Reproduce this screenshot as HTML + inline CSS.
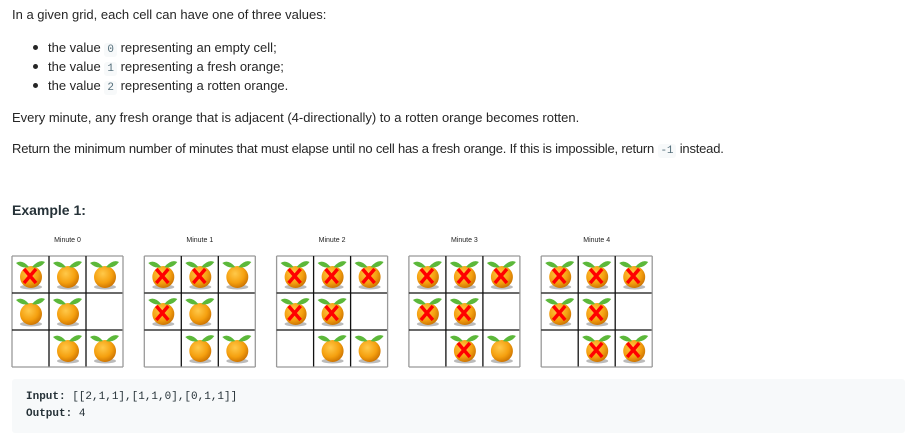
<!DOCTYPE html>
<html><head><meta charset="utf-8"><style>
body{margin:0;width:905px;height:436px;background:#fff;font-family:"Liberation Sans",sans-serif;color:#262626;font-size:13px;position:relative;overflow:hidden}
.t{position:absolute;left:12px;white-space:nowrap;line-height:16px}
.li{position:absolute;left:48px;white-space:nowrap;line-height:16px}
.dot{position:absolute;left:33px;width:5px;height:5px;border-radius:50%;background:#262626}
code{font-family:"Liberation Mono",monospace;font-size:11px;background:#f7f9fa;color:#546e7a;padding:1px 3px;border-radius:3px}
.mt{position:absolute;font-size:7px;color:#222;width:111px;text-align:center}
#code{position:absolute;left:12px;top:379px;width:893px;height:54px;background:#f7f9fa;border-radius:3px}
#code div{position:absolute;left:14px;font-family:"Liberation Mono",monospace;font-size:11px;color:#263238}
</style></head><body>
<div class="t" style="top:7px">In a given grid, each cell can have one of three values:</div>
<div class="dot" style="top:45px"></div><div class="li" style="top:40px">the value <code>0</code> representing an empty cell;</div>
<div class="dot" style="top:64px"></div><div class="li" style="top:59px">the value <code>1</code> representing a fresh orange;</div>
<div class="dot" style="top:83px"></div><div class="li" style="top:78px">the value <code>2</code> representing a rotten orange.</div>
<div class="t" style="top:110px">Every minute, any fresh orange that is adjacent (4-directionally) to a rotten orange becomes rotten.</div>
<div class="t" style="top:141px;letter-spacing:-0.2px">Return the minimum number of minutes that must elapse until no cell has a fresh orange. If this is impossible, return <code>-1</code> instead.</div>
<div class="t" style="top:202px;font-weight:bold;font-size:14px;color:#263238">Example 1:</div>
<svg id="grids" width="905" height="380" style="position:absolute;left:0;top:0">
<defs><radialGradient id="og" cx="0.4" cy="0.35" r="0.7"><stop offset="0" stop-color="#ffc94a"/><stop offset="0.6" stop-color="#f5a00f"/><stop offset="1" stop-color="#c86f00"/></radialGradient></defs>
</svg>
<div id="code">
<div style="top:12px"><b>Input:</b> [[2,1,1],[1,1,0],[0,1,1]]</div>
<div style="top:29px"><b>Output:</b> 4</div>
</div>
<script>
const minuteLabels=["Minute 0","Minute 1","Minute 2","Minute 3","Minute 4"];
const states=[
[[2,1,1],[1,1,0],[0,1,1]],
[[2,2,1],[2,1,0],[0,1,1]],
[[2,2,2],[2,2,0],[0,1,1]],
[[2,2,2],[2,2,0],[0,2,1]],
[[2,2,2],[2,2,0],[0,2,2]]];
const svg=document.getElementById('grids');const NS='http://www.w3.org/2000/svg';
const gx0=12,gstep=132.3,gy=256,cs=37;
function mk(t,a,p){const e=document.createElementNS(NS,t);for(const k in a)e.setAttribute(k,a[k]);p.appendChild(e);return e;}
states.forEach((g,i)=>{
 const x0=gx0+i*gstep;
 const d=document.createElement('div');d.className='mt';d.style.left=x0+'px';d.style.top='237px';d.textContent=minuteLabels[i];
 
 
 document.body.appendChild(d);
 g.forEach((row,r)=>row.forEach((v,c)=>{
  const cx=x0+c*cs,cy=gy+r*cs;
  if(v>0){
   const o=mk('g',{},svg);
   
   
   mk('ellipse',{cx:cx+19,cy:cy+31,rx:11,ry:2.5,fill:'#bbb'},o);
   mk('circle',{cx:cx+19,cy:cy+21,r:11,fill:'url(#og)'},o);
   mk('path',{d:`M${cx+17} ${cy+11} Q${cx+10} ${cy+3} ${cx+4} ${cy+7} Q${cx+10} ${cy+13} ${cx+17} ${cy+11}Z`,fill:'#5cb83a'},o);
   mk('path',{d:`M${cx+20} ${cy+11} Q${cx+27} ${cy+3} ${cx+33} ${cy+6} Q${cx+28} ${cy+13} ${cx+20} ${cy+11}Z`,fill:'#5cb83a'},o);
   if(v==2){mk('path',{d:`M${cx+12} ${cy+13} L${cx+24} ${cy+27} M${cx+24} ${cy+13} L${cx+12} ${cy+27}`,stroke:'#f00',"stroke-width":3.5},o);}
  }
 }));
 for(let k=0;k<=3;k++){
  mk('line',{x1:x0+k*cs,y1:gy,x2:x0+k*cs,y2:gy+3*cs,stroke:(k==0||k==3)?'#999':'#111',"stroke-width":1.3},svg);
  mk('line',{x1:x0,y1:gy+k*cs,x2:x0+3*cs,y2:gy+k*cs,stroke:(k==0||k==3)?'#999':'#111',"stroke-width":1.3},svg);
 }
});
</script>
</body></html>
